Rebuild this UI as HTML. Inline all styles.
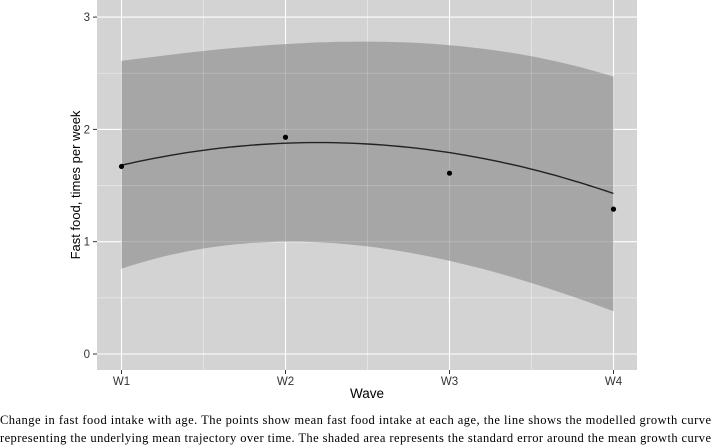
<!DOCTYPE html>
<html><head><meta charset="utf-8"><style>
body{margin:0;background:#fff;width:712px;height:448px;overflow:hidden}
svg{display:block}
</style></head><body>
<svg id="chart" width="712" height="448" xmlns="http://www.w3.org/2000/svg">
<rect x="97" y="0" width="540" height="370" fill="#d3d3d3"/>
<g id="grid"></g>
<path id="ribbon" fill="#a6a6a6"/>
<g id="gridover"></g>
<path id="curve" fill="none" stroke="#222" stroke-width="1.4"/>
<g id="points"></g>
<g id="axes" font-family="Liberation Sans, sans-serif"></g>
<text transform="translate(80,185) rotate(-90)" text-anchor="middle" font-family="Liberation Sans, sans-serif" font-size="13">Fast food, times per week</text>
<text x="367" y="398" text-anchor="middle" font-family="Liberation Sans, sans-serif" font-size="13.5">Wave</text>
<text x="0" y="424" textLength="711" lengthAdjust="spacing" font-family="Liberation Serif, serif" font-size="12.5">Change in fast food intake with age. The points show mean fast food intake at each age, the line shows the modelled growth curve</text>
<text x="0" y="442" textLength="711" lengthAdjust="spacing" font-family="Liberation Serif, serif" font-size="12.5">representing the underlying mean trajectory over time. The shaded area represents the standard error around the mean growth curve</text>
</svg>
<script>
const waves = ["W1","W2","W3","W4"];
const pointMeans = [1.67, 1.93, 1.61, 1.29];
const curveValues = [1.68, 1.88, 1.79, 1.43];
const upperSE = [2.61, 2.76, 2.75, 2.47];
const lowerSE = [0.76, 1.00, 0.83, 0.38];
const yTicks = [0, 1, 2, 3];

const NS="http://www.w3.org/2000/svg";
const x = i => 121.5 + i*164;
const y = v => 354 - v*112.3;
function el(t,a,p){const e=document.createElementNS(NS,t);for(const k in a)e.setAttribute(k,a[k]);document.getElementById(p).appendChild(e);return e;}
function lag(vals,t){let s=0;for(let i=0;i<vals.length;i++){let l=1;for(let j=0;j<vals.length;j++)if(j!==i)l*=(t-j)/(i-j);s+=vals[i]*l;}return s;}
function quad(vals){
  const n=vals.length;let S=[0,0,0,0,0],T=[0,0,0];
  for(let i=0;i<n;i++){for(let k=0;k<5;k++)S[k]+=Math.pow(i,k);for(let k=0;k<3;k++)T[k]+=vals[i]*Math.pow(i,k);}
  const A=[[S[0],S[1],S[2],T[0]],[S[1],S[2],S[3],T[1]],[S[2],S[3],S[4],T[2]]];
  for(let c=0;c<3;c++){for(let r=c+1;r<3;r++){const f=A[r][c]/A[c][c];for(let k=c;k<4;k++)A[r][k]-=f*A[c][k];}}
  const b=[0,0,0];for(let r=2;r>=0;r--){let s=A[r][3];for(let k=r+1;k<3;k++)s-=A[r][k]*b[k];b[r]=s/A[r][r];}
  return t=>b[0]+b[1]*t+b[2]*t*t;
}
for(let v=0.5;v<3.2;v+=1){el('line',{x1:97,x2:637,y1:y(v),y2:y(v),stroke:'#e6e6e6','stroke-width':0.6},'grid');}
for(let i=0.5;i<3;i+=1){el('line',{x1:x(i),x2:x(i),y1:0,y2:370,stroke:'#e6e6e6','stroke-width':0.6},'grid');}
yTicks.forEach(v=>{el('line',{x1:97,x2:637,y1:y(v),y2:y(v),stroke:'#fff','stroke-width':1.1},'grid');});
waves.forEach((w,i)=>{el('line',{x1:x(i),x2:x(i),y1:0,y2:370,stroke:'#fff','stroke-width':1.1},'grid');});
const N=60;let d='';
for(let k=0;k<=N;k++){const t=3*k/N;d+=(k?'L':'M')+x(t).toFixed(1)+','+y(lag(upperSE,t)).toFixed(1);}
for(let k=N;k>=0;k--){const t=3*k/N;d+='L'+x(t).toFixed(1)+','+y(lag(lowerSE,t)).toFixed(1);}
document.getElementById('ribbon').setAttribute('d',d+'Z');
for(let v=0.5;v<3.2;v+=0.5){el('line',{x1:97,x2:637,y1:y(v),y2:y(v),stroke:'#fff','stroke-opacity':0.18,'stroke-width':1},'gridover');}
for(let i=0;i<=3;i+=0.5){el('line',{x1:x(i),x2:x(i),y1:0,y2:370,stroke:'#fff','stroke-opacity':0.18,'stroke-width':1},'gridover');}
const f=quad(curveValues);let c='';
for(let k=0;k<=N;k++){const t=3*k/N;c+=(k?'L':'M')+x(t).toFixed(1)+','+y(f(t)).toFixed(1);}
document.getElementById('curve').setAttribute('d',c);
pointMeans.forEach((v,i)=>{
  const p=el('circle',{cx:x(i),cy:y(v),r:2.6,fill:'#000'},'points');
  
  
});
yTicks.forEach(v=>{
  el('line',{x1:93,x2:97,y1:y(v),y2:y(v),stroke:'#333','stroke-width':1},'axes');
  const t=el('text',{x:90,y:y(v)+4,'text-anchor':'end','font-size':11.5,fill:'#333'},'axes');
  t.textContent=v;
  
  
});
waves.forEach((w,i)=>{
  el('line',{x1:x(i),x2:x(i),y1:370,y2:374,stroke:'#333','stroke-width':1},'axes');
  const t=el('text',{x:x(i),y:385,'text-anchor':'middle','font-size':11.5,fill:'#333'},'axes');
  t.textContent=w;
  
  
});
</script>
</body></html>
